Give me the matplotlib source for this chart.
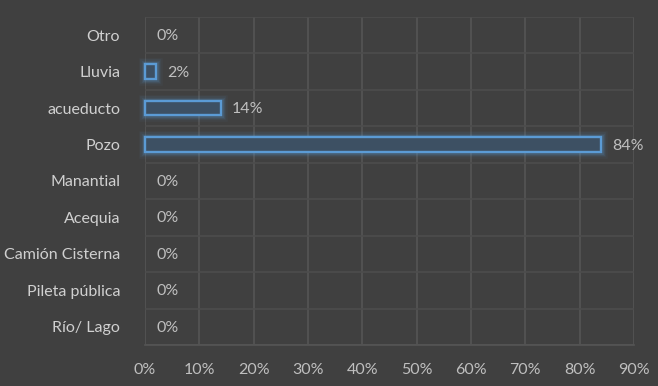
import matplotlib.pyplot as plt
from matplotlib.ticker import PercentFormatter

plt.rcParams['font.family'] = ['Lato', 'DejaVu Sans']

categorias = ['Otro', 'Lluvia', 'acueducto', 'Pozo', 'Manantial', 'Acequia',
              'Camión Cisterna', 'Pileta pública', 'Río/ Lago']
valores = [0, 2, 14, 84, 0, 0, 0, 0, 0]
ticks = [0, 10, 20, 30, 40, 50, 60, 70, 80, 90]

bg = '#404040'
fig = plt.figure(figsize=(6.58, 3.86), dpi=100, facecolor=bg)
ax = fig.add_axes([0.2204, 0.1062, 0.7431, 0.8498], facecolor=bg)

y = list(range(len(categorias)))[::-1]
# solo las barras con valor (las de 0% no dibujan borde)
yb = [yi for yi, v in zip(y, valores) if v > 0]
vb = [v for v in valores if v > 0]

# glow
for lw, a in [(9, 0.05), (7, 0.07), (5, 0.1), (3.5, 0.15)]:
    bars = ax.barh(yb, vb, height=0.4, color='none', edgecolor='#5b9bd5',
                   linewidth=lw, alpha=a, zorder=2)
    for b in bars:
        b.set_clip_on(False)
bars = ax.barh(yb, vb, height=0.4, color='#3d5063', edgecolor='#5b9bd5',
               linewidth=1.7, zorder=3)
for b in bars:
    b.set_clip_on(False)

for yi, v in zip(y, valores):
    ax.annotate(f'{v}%', (v, yi), xytext=(11, -1), textcoords='offset pixels',
                va='center', ha='left', color='#bfbfbf', fontsize=11.5, zorder=4)

ax.set_xlim(0, 90)
ax.set_ylim(-0.5, len(categorias) - 0.5)
ax.set_xticks(ticks)
ax.xaxis.set_major_formatter(PercentFormatter(decimals=0))
ax.set_yticks(y)
ax.set_yticklabels(categorias)
ax.set_yticks([i + 0.5 for i in range(-1, len(categorias))], minor=True)

ax.grid(axis='x', which='major', color='#555555', linewidth=1.2, zorder=0)
ax.grid(axis='y', which='minor', color='#4d4d4d', linewidth=1.2, zorder=0)
ax.grid(axis='y', which='major', visible=False)
ax.set_axisbelow(True)

for s in ['top', 'left', 'right']:
    ax.spines[s].set_visible(False)
ax.spines['bottom'].set_color('#555555')
ax.spines['bottom'].set_linewidth(1.2)

ax.tick_params(axis='x', length=0, pad=13, colors='#bfbfbf', labelsize=11.5)
ax.tick_params(axis='y', which='both', length=0, pad=18, colors='#d0d0d0', labelsize=11.5)

fig.savefig('out.png', dpi=100, facecolor=bg)
